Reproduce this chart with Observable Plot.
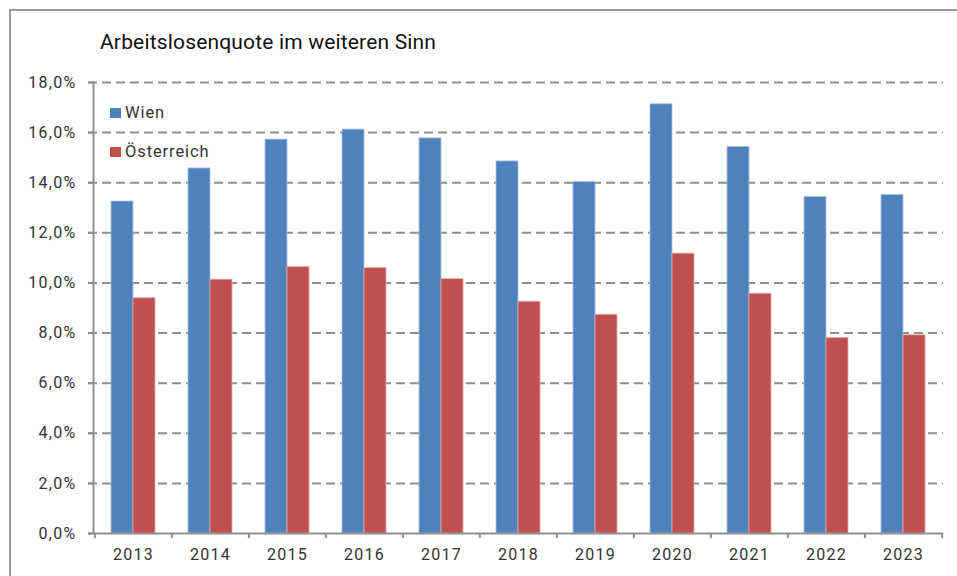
<!DOCTYPE html>
<html>
<head>
<meta charset="utf-8">
<script src="https://cdn.jsdelivr.net/npm/d3@7"></script>
<script src="https://cdn.jsdelivr.net/npm/@observablehq/plot@0.6"></script>
<style>
  html, body { margin: 0; padding: 0; background: #fff; }
  #wrap { position: relative; width: 957px; height: 576px; overflow: hidden; font-family: Roboto, "DejaVu Sans", sans-serif; }
  #border { position: absolute; left: 9px; top: 9px; width: 970px; height: 600px; border-left: 2px solid #9a9a9a; border-top: 2px solid #9a9a9a; }
  #title { position: absolute; left: 100px; top: 30px; font-size: 21px; letter-spacing: 0.17px; color: #111; white-space: nowrap; }
  #chart { position: absolute; left: 0; top: 0; }
  #chart svg text { letter-spacing: 1.3px; }
  .leg { position: absolute; left: 110px; font-size: 16.5px; letter-spacing: 0.9px; color: #333; display: flex; align-items: center; }
  .leg span.sw { display: inline-block; width: 11px; height: 10px; margin-right: 4px; }
</style>
</head>
<body>
<div id="wrap">
  <div id="border"></div>
  <div id="chart"></div>
  <div id="title">Arbeitslosenquote im weiteren Sinn</div>
  <div class="leg" id="leg1" style="top:103px"><span class="sw" style="background:#4F81BD"></span>Wien</div>
  <div class="leg" id="leg2" style="top:142px"><span class="sw" style="background:#C0504D"></span>Österreich</div>
</div>
<script>
const years = ["2013","2014","2015","2016","2017","2018","2019","2020","2021","2022","2023"];
const wien = [13.25, 14.57, 15.72, 16.12, 15.77, 14.85, 14.03, 17.13, 15.43, 13.43, 13.51];
const oesterreich = [9.39, 10.13, 10.63, 10.59, 10.15, 9.25, 8.73, 11.17, 9.57, 7.80, 7.91];
const yTicks = [0, 2, 4, 6, 8, 10, 12, 14, 16, 18];
const seriesNames = ["Wien", "Österreich"];
const colors = ["#4F81BD", "#C0504D"];

const data = [];
years.forEach((y, i) => {
  data.push({year: y, series: seriesNames[0], value: wien[i]});
  data.push({year: y, series: seriesNames[1], value: oesterreich[i]});
});

const W = 957, H = 576;
const mL = 93, mR = 14, mT = 82, mB = 43;
const step = (W - mL - mR) / years.length;
const pad = 33 / step;

const fmt = d => d.toFixed(1).replace(".", ",") + "%";

const chart = Plot.plot({
  width: W,
  height: H,
  marginLeft: mL,
  marginRight: mR,
  marginTop: mT,
  marginBottom: mB,
  style: {fontFamily: "Roboto, 'DejaVu Sans', sans-serif", background: "transparent", overflow: "visible"},
  x: {domain: years, paddingInner: pad, paddingOuter: pad / 2, align: 0.5},
  y: {domain: [0, 18]},
  marks: [
    Plot.ruleY(yTicks.filter(d => d > 0), {y: d => d, stroke: "#8f8f8f", strokeWidth: 2, strokeDasharray: "9,5", insetLeft: -5}),
    Plot.barY(data.filter(d => d.series === "Wien"), {x: "year", y: "value", fill: colors[0], insetRight: 22, stroke: "#a9c1e2", strokeWidth: 0.8}),
    Plot.barY(data.filter(d => d.series === "Österreich"), {x: "year", y: "value", fill: colors[1], insetLeft: 22, stroke: "#e0a8a6", strokeWidth: 0.8}),
    Plot.frame({anchor: "left", stroke: "#8f8f8f", strokeWidth: 2}),
    Plot.ruleY([0], {stroke: "#8f8f8f", strokeWidth: 2, insetLeft: -5}),
    Plot.axisY(yTicks, {tickSize: 5, tickPadding: 12, tickFormat: fmt, stroke: "#8f8f8f", strokeWidth: 2, fontSize: 16, fill: "#333", label: null}),
    Plot.axisX(years, {tickSize: 5, dx: -step / 2, stroke: "#8f8f8f", strokeWidth: 2, text: null, label: null}),
    Plot.axisX([years[years.length - 1]], {tickSize: 5, dx: step / 2, stroke: "#8f8f8f", strokeWidth: 2, text: null, label: null}),
    Plot.axisX(years, {tickSize: 0, tickPadding: 15, fontSize: 16, fill: "#333", label: null})
  ]
});
document.getElementById("chart").appendChild(chart);
</script>
</body>
</html>
